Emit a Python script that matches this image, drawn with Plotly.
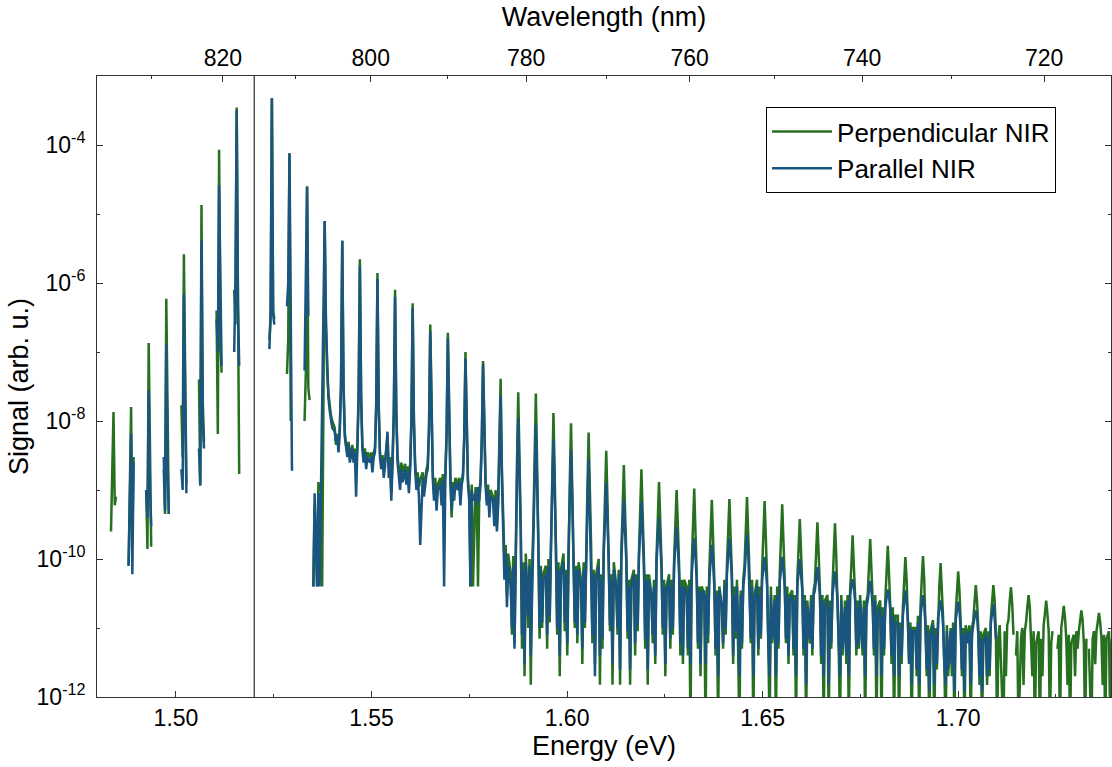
import plotly.graph_objects as go

# ---------------- data ----------------
# sideband order n = -8 ... 49 (n = 0 is the NIR laser line, no data there)
sideband_order = list(range(-8, 50))
sideband_energy_ev = [
    1.48402, 1.48852, 1.49302, 1.49752, 1.50202, 1.50652, 1.51102, 1.51552,
    1.52002, 1.52452, 1.52902, 1.53352, 1.53802, 1.54252, 1.54702, 1.55152,
    1.55602, 1.56052, 1.56502, 1.56952, 1.57402, 1.57852, 1.58302, 1.58752,
    1.59202, 1.59652, 1.60102, 1.60552, 1.61002, 1.61452, 1.61902, 1.62352,
    1.62802, 1.63252, 1.63702, 1.64152, 1.64602, 1.65052, 1.65502, 1.65952,
    1.66402, 1.66852, 1.67302, 1.67752, 1.68202, 1.68652, 1.69102, 1.69552,
    1.70002, 1.70452, 1.70902, 1.71352, 1.71802, 1.72252, 1.72702, 1.73152,
    1.73602, 1.74052,
]
# spectrometer samples around each sideband centre (eV)
sample_offsets_ev = [-0.00193, -0.00161, -0.00129, -0.00096, -0.00064, -0.00032, 0.0,
                     0.00032, 0.00064, 0.00096, 0.00129, 0.00161, 0.00193]

N = None
# Perpendicular NIR signal: one row per sideband, 13 samples per row
perp_rows = [
    [N, N, N, N, 2.5e-10, 3e-9, 1.35e-8, 6e-10, 8e-10, N, N, N, N],          # -8
    [N, N, N, N, 8e-11, 1e-9, 1.6e-8, 2e-10, 3e-9, N, N, N, N],              # -7
    [N, N, N, N, 1e-9, 1.4e-10, 1.35e-7, 3e-9, 1.5e-10, N, N, N, N],         # -6
    [N, N, N, N, 2e-9, 4.5e-10, 5.9e-7, 2.8e-8, 4.5e-10, N, N, N, N],        # -5
    [N, N, N, N, 1.7e-8, 3e-9, 2.6e-6, 5e-8, 1.2e-9, N, N, N, N],            # -4
    [N, N, N, N, 4e-8, 1.2e-9, 1.35e-5, 2e-8, 5e-9, N, N, N, N],             # -3
    [N, N, N, N, 4e-7, 6.5e-9, 8.5e-5, 1.5e-7, 5e-8, N, N, N, N],            # -2
    [N, N, N, N, 8e-7, 2.5e-7, 3.5e-4, 1e-7, 1.7e-9, N, N, N, N],            # -1
    [N, N, N, N, N, N, N, N, N, N, N, N, N],                                 # 0
    [N, N, N, N, 1.5e-7, 3e-7, 4.8e-4, 4e-7, 3e-7, N, N, N, N],              # 1
    [N, N, N, N, 4.8e-8, 1.5e-7, 7.6e-5, 1e-8, N, N, N, N, N],               # 2
    [N, N, N, N, 1e-8, 5e-8, 2.5e-5, 3e-8, 2e-8, N, N, 4e-11, 6e-10],        # 3
    [4e-11, 1.3e-9, 1e-9, 1.2e-9, 4e-11, 3.8e-8, 7.9e-6, 3e-7, 5e-8, 2.5e-8, 1.6e-8, 1.2e-8, 1e-8],  # 4
    [8e-9, 4.5e-9, 6.5e-9, 4e-9, 8e-9, 3.5e-8, 4.1e-6, 3.5e-8, 7e-9, 4.5e-9, 3.5e-9, 5e-9, 3e-9],    # 5
    [4.5e-9, 3e-9, 4e-9, 2e-9, 4.5e-9, 2.5e-8, 2.2e-6, 2.5e-8, 4.5e-9, 3e-9, 4e-9, 2.5e-9, 3.5e-9],  # 6
    [3e-9, 3.5e-9, 2.2e-9, 3.5e-9, 4e-9, 1.8e-8, 1.4e-6, 1.8e-8, 3.5e-9, 2.5e-9, 3.2e-9, 2e-9, 2.6e-9],  # 7
    [6e-9, 2e-9, 3e-9, 9e-10, 3e-9, 1.4e-8, 8e-7, 1.4e-8, 3e-9, 2e-9, 1.4e-9, 2.5e-9, 1.8e-9],       # 8
    [2.4e-9, 1.5e-9, 2.2e-9, 1.2e-9, 2.4e-9, 1.1e-8, 5.1e-7, 1.1e-8, 2.4e-9, 1.3e-9, 1.8e-9, 1.1e-9, 1.4e-9],  # 9
    [1.8e-9, 1e-9, 1.6e-9, 2e-9, 2.4e-9, 8e-9, 2.5e-7, 8e-9, 1.8e-9, 9e-10, 1.5e-9, 7e-10, 1.2e-9],  # 10
    [1.5e-9, 8e-10, 1.7e-9, 9e-10, 1.8e-9, 7e-9, 1.9e-7, 7e-9, 1.7e-9, 4e-10, 1.3e-9, 9e-10, 1.5e-9],  # 11
    [1.2e-9, 1.5e-9, 8e-10, 1.4e-9, 1.7e-9, 6e-9, 1e-7, 6e-9, 1.4e-9, 9e-10, 4e-11, 1.2e-9, 4e-11],  # 12
    [1.1e-9, 7e-10, 4e-11, 9e-10, 1.4e-9, 6e-9, 7.4e-8, 6e-9, 1.4e-9, 7e-10, 1.2e-9, 5e-10, 1e-9],   # 13
    [8e-10, 4e-10, 1e-9, 3e-10, 7e-10, 4e-9, 4.1e-8, 2e-9, 3e-10, 1e-10, 1.6e-10, 3e-11, 1.2e-10],   # 14
    [6e-11, 8e-12, 1.1e-10, 6e-12, 3e-10, 2.5e-9, 2.6e-8, 2.5e-9, 3e-10, 5e-12, 9e-11, 2e-12, 1.2e-10],  # 15
    [1e-11, 1e-10, 1.5e-12, 7e-11, 3e-10, 2.5e-9, 2.5e-8, 2.5e-9, 2.5e-10, 7e-12, 8e-11, 1e-11, 6e-11],  # 16
    [8e-11, 5e-12, 1e-10, 1.2e-11, 2e-10, 1.8e-9, 1.3e-8, 1.8e-9, 2e-10, 8e-12, 9e-11, 2e-12, 7e-11],  # 17
    [1.2e-10, 9e-12, 7e-11, 4e-12, 2e-10, 1.3e-9, 9.3e-9, 1.3e-9, 1.6e-10, 1e-11, 8e-11, 6e-12, 9e-11],  # 18
    [5e-11, 3e-12, 9e-11, 1e-11, 1.6e-10, 1e-9, 6.8e-9, 1e-9, 1.5e-10, 6e-12, 7e-11, 3e-12, 6e-11],  # 19
    [1e-10, 1.5e-12, 6e-11, 5e-12, 1.5e-10, 7e-10, 3.7e-9, 7e-10, 1.3e-10, 9e-12, 6e-11, 1.5e-12, 9e-11],  # 20
    [4e-11, 8e-12, 7e-11, 1.5e-12, 1.3e-10, 5e-10, 2.3e-9, 5e-10, 1.1e-10, 7e-12, 5e-11, 1.5e-12, 5e-11],  # 21
    [7e-11, 4e-12, 6e-11, 9e-12, 1.2e-10, 4.5e-10, 2e-9, 4.5e-10, 1e-10, 5e-12, 6e-11, 1.5e-12, 6e-11],  # 22
    [3e-11, 6e-12, 5e-11, 3e-12, 1.1e-10, 3.5e-10, 1.3e-9, 3.5e-10, 9e-11, 8e-12, 5e-11, 2e-12, 4e-11],  # 23
    [6e-11, 5e-12, 5e-11, 8e-12, 1e-10, 3e-10, 1e-9, 3e-10, 8e-11, 4e-12, 5e-11, 3e-12, 5e-11],  # 24
    [4e-11, 4e-12, 5e-11, 3e-13, 8e-11, 2.5e-10, 1.05e-9, 2.5e-10, 6e-11, 5e-12, 4e-11, 2e-12, 4e-11],  # 25
    [3e-11, 3e-13, 4e-11, 6e-12, 7e-11, 2e-10, 7.2e-10, 2e-10, 5e-11, 4e-12, 3.5e-11, 3e-13, 4e-11],  # 26
    [2e-11, 5e-12, 5e-11, 8e-12, 8e-11, 2e-10, 7.4e-10, 2e-10, 6e-11, 3e-12, 4e-11, 7e-12, 5e-11],  # 27
    [3e-13, 3.5e-11, 5e-12, 5e-11, 8e-11, 2.2e-10, 7.9e-10, 2.2e-10, 6e-11, 6e-12, 5e-11, 3e-13, 3e-11],  # 28
    [5e-11, 4e-12, 4e-11, 7e-12, 7e-11, 2e-10, 6.9e-10, 2e-10, 5e-11, 5e-12, 3e-13, 4e-11, 6e-12],  # 29
    [3e-11, 3e-13, 4e-11, 5e-12, 6e-11, 1.8e-10, 6.2e-10, 1.8e-10, 5e-11, 6e-12, 4e-11, 3e-12, 3e-11],  # 30
    [3.5e-11, 4e-12, 3e-11, 3e-13, 5e-11, 1.3e-10, 3.8e-10, 1.3e-10, 4e-11, 4e-12, 3e-11, 3e-13, 2.5e-11],  # 31
    [6e-12, 3e-11, 4e-12, 3.5e-11, 4.5e-11, 1.2e-10, 3.4e-10, 1.2e-10, 3.5e-11, 3e-12, 3e-11, 3e-13, 2.5e-11],  # 32
    [3e-11, 3e-13, 2.5e-11, 5e-12, 4e-11, 1.1e-10, 3.3e-10, 1.1e-10, 3e-11, 5e-12, 3e-13, 3e-11, 4e-12],  # 33
    [2.5e-11, 3e-12, 3e-11, 3e-13, 3.5e-11, 8e-11, 2.2e-10, 8e-11, 3e-11, 4e-12, 2.5e-11, 5e-12, 3e-11],  # 34
    [4e-12, 2.5e-11, 3e-13, 2.5e-11, 3e-11, 7e-11, 1.95e-10, 7e-11, 2.5e-11, 4e-12, 3e-11, 3e-13, 2e-11],  # 35
    [2.5e-11, 3e-13, 2e-11, 4e-12, 2.5e-11, 6e-11, 1.55e-10, 6e-11, 2e-11, 3e-12, 2e-11, 3e-13, 1.5e-11],  # 36
    [1.5e-11, 3e-13, 1.2e-11, 3e-12, 2e-11, 5e-11, 1.07e-10, 5e-11, 1.5e-11, 3e-12, 1.2e-11, 3e-13, 1e-11],  # 37
    [1e-11, 2e-12, 1.5e-11, 3e-13, 2e-11, 5e-11, 1.1e-10, 5e-11, 1.4e-11, 2e-12, 1.1e-11, 3e-13, 9e-12],  # 38
    [1.3e-11, 3e-13, 1e-11, 2.5e-12, 1.8e-11, 4e-11, 8.7e-11, 4e-11, 1.4e-11, 3e-12, 3e-13, 1.1e-11, 2e-12],  # 39
    [1e-11, 2e-12, 1.2e-11, 3e-13, 1.6e-11, 3.5e-11, 6.6e-11, 3.5e-11, 1.2e-11, 2e-12, 1e-11, 3e-13, 1.1e-11],  # 40
    [7e-12, 1.1e-11, 3e-13, 1e-11, 1.3e-11, 2.5e-11, 4.2e-11, 2.5e-11, 1e-11, 1.5e-12, 9e-12, 3e-13, 8e-12],  # 41
    [1e-11, 1.5e-12, 9e-12, 2e-12, 1.4e-11, 2.5e-11, 4.2e-11, 2.5e-11, 9e-12, 3e-13, 7e-12, 1.1e-11, 2e-12],  # 42
    [3e-13, 9e-12, 2e-12, 1.1e-11, 1.3e-11, 2.5e-11, 3.9e-11, 2.2e-11, 8e-12, N, 4e-12, 9e-12, 3e-13],  # 43
    [7e-12, 1e-11, 1.5e-12, 9e-12, 1.2e-11, 2e-11, 3e-11, 2e-11, 7e-12, 2e-12, 9e-12, 3e-13, 6e-12],  # 44
    [9e-12, 3e-13, 7e-12, 2e-12, 1.1e-11, 1.6e-11, 2.5e-11, 1.6e-11, 9e-12, 3e-13, 6e-12, 9e-12, N],  # 45
    [N, 5e-12, 8e-12, 3e-13, 1e-11, 1.4e-11, 2.1e-11, 1.4e-11, 7e-12, 1.5e-12, 8e-12, 3e-13, 6e-12],  # 46
    [8e-12, 2e-12, 9e-12, 5e-12, 9e-12, 1.3e-11, 1.8e-11, 1.3e-11, 6e-12, 3e-13, 7e-12, N, 5e-12],  # 47
    [3e-13, 7e-12, 9e-12, 3e-12, 9e-12, 1.2e-11, 1.65e-11, 1.2e-11, 7e-12, 1.5e-12, 8e-12, 3e-13, 7e-12],  # 48
    [9e-12, 3e-13, 6e-12, 9e-12, 9e-12, 1.2e-11, 1.5e-11, 1.1e-11, 5e-12, 3e-13, 7e-12, 9e-12, 3e-13],  # 49
]

# Parallel NIR signal: same sampling
para_rows = [
    [N, N, N, N, N, N, N, N, N, N, N, N, N],                                 # -8
    [N, N, N, N, 8e-11, 1e-9, 6.5e-9, 6e-11, 2.5e-9, N, N, N, N],            # -7
    [N, N, N, N, 1e-9, 4e-10, 2.8e-8, 1e-9, 3e-10, N, N, N, N],              # -6
    [N, N, N, N, 3e-9, 5e-10, 1.3e-7, 2e-9, 4.5e-10, N, N, N, N],            # -5
    [N, N, N, N, 2e-9, 1e-9, 6.9e-7, 8e-9, 9e-10, N, N, N, N],               # -4
    [N, N, N, N, 4e-9, 1.15e-9, 4.1e-6, 1e-8, 4e-9, N, N, N, N],             # -3
    [N, N, N, N, 3e-7, 1e-7, 2.6e-5, 1e-6, 6.3e-8, N, N, N, N],              # -2
    [N, N, N, N, 1e-7, 1e-6, 3.2e-4, 5e-7, 6.3e-8, N, N, N, N],              # -1
    [N, N, N, N, N, N, N, N, N, N, N, N, N],                                 # 0
    [N, N, N, N, 1.1e-7, 4e-7, 4.7e-4, 3.5e-7, 2.5e-7, N, N, N, N],          # 1
    [N, N, N, N, 4.6e-7, 1e-6, 7.6e-5, 3e-7, 1.9e-9, N, N, N, N],            # 2
    [N, N, N, N, 5.4e-8, 1.3e-6, 2.5e-5, 3.5e-7, 3.5e-7, N, N, 4e-11, 9e-10],  # 3
    [4e-11, 9e-10, 4e-11, 8e-10, 4e-8, 2e-7, 7.9e-6, 2.5e-7, 4.5e-8, 2.2e-8, 1.4e-8, 1e-8, 8e-9],  # 4
    [7e-9, 5e-9, 6e-9, 3.5e-9, 7e-9, 3e-8, 4.1e-6, 3e-8, 6e-9, 4e-9, 3e-9, 4.5e-9, 2.5e-9],  # 5
    [4e-9, 2.5e-9, 3.5e-9, 8e-10, 4e-9, 2e-8, 1.8e-6, 2e-8, 4e-9, 2.5e-9, 3.5e-9, 2e-9, 3e-9],  # 6
    [2.5e-9, 3e-9, 1.8e-9, 3e-9, 3.5e-9, 1.5e-8, 1.15e-6, 1.5e-8, 3e-9, 2e-9, 2.8e-9, 1.5e-9, 2.2e-9],  # 7
    [7e-9, 1.5e-9, 2.5e-9, 7e-10, 2.5e-9, 1.2e-8, 6.3e-7, 1.2e-8, 2.5e-9, 1.5e-9, 1e-9, 2e-9, 1.3e-9],  # 8
    [2e-9, 1.2e-9, 1.8e-9, 9e-10, 2e-9, 9e-9, 4.3e-7, 9e-9, 2e-9, 1e-9, 1.5e-9, 8e-10, 1.6e-10],  # 9
    [1.5e-9, 8e-10, 1.3e-9, 1.7e-9, 2e-9, 7e-9, 2e-7, 7e-9, 1.5e-9, 7e-10, 1.2e-9, 5e-10, 1e-9],  # 10
    [1.2e-9, 6e-10, 1.4e-9, 4e-11, 1.5e-9, 6e-9, 1.6e-7, 6e-9, 1.4e-9, 5e-10, 1.1e-9, 7e-10, 1.3e-9],  # 11
    [1e-9, 1.3e-9, 6e-10, 1.2e-9, 1.5e-9, 5e-9, 8e-8, 5e-9, 1.2e-9, 7e-10, 4e-11, 1e-9, 7e-10],  # 12
    [9e-10, 6e-10, 1.1e-9, 7e-10, 1.2e-9, 5e-9, 6.6e-8, 5e-9, 1.2e-9, 6e-10, 1e-9, 4e-10, 8e-10],  # 13
    [7e-10, 3e-10, 8e-10, 2.5e-10, 6e-10, 3e-9, 2.3e-8, 1.5e-9, 2e-10, 5e-11, 1.2e-10, 2e-11, 8e-11],  # 14
    [4e-11, 1e-11, 8e-11, 5e-12, 2.5e-10, 1.5e-9, 1.1e-8, 1.5e-9, 2.5e-10, 8e-12, 7e-11, 3e-12, 9e-11],  # 15
    [1.5e-11, 8e-11, 4e-12, 6e-11, 2e-10, 1.3e-9, 9.1e-9, 1.3e-9, 2e-10, 1e-11, 7e-11, 1.2e-11, 5e-11],  # 16
    [6e-11, 8e-12, 8e-11, 1.5e-11, 1.6e-10, 9e-10, 5.4e-9, 9e-10, 1.6e-10, 1e-11, 7e-11, 4e-12, 6e-11],  # 17
    [9e-11, 1.2e-11, 6e-11, 6e-12, 1.5e-10, 7e-10, 3.8e-9, 7e-10, 1.3e-10, 1.2e-11, 7e-11, 8e-12, 7e-11],  # 18
    [4e-11, 5e-12, 7e-11, 1.2e-11, 1.3e-10, 5e-10, 2.8e-9, 5e-10, 1.2e-10, 8e-12, 6e-11, 2e-12, 5e-11],  # 19
    [8e-11, 4e-12, 5e-11, 7e-12, 1.2e-10, 3.5e-10, 1.3e-9, 3.5e-10, 1e-10, 1.1e-11, 5e-11, 3e-12, 7e-11],  # 20
    [3.5e-11, 1e-11, 6e-11, 2.5e-12, 1e-10, 2.5e-10, 7.2e-10, 2.5e-10, 9e-11, 9e-12, 4e-11, 2.5e-12, 4e-11],  # 21
    [6e-11, 6e-12, 5e-11, 1.1e-11, 1e-10, 2.2e-10, 6.8e-10, 2.2e-10, 8e-11, 7e-12, 5e-11, 2.5e-12, 5e-11],  # 22
    [2.5e-11, 8e-12, 4e-11, 4e-12, 9e-11, 1.8e-10, 4e-10, 1.8e-10, 7e-11, 1e-11, 4e-11, 3e-12, 3.5e-11],  # 23
    [5e-11, 7e-12, 4e-11, 1e-11, 8e-11, 1.5e-10, 2.9e-10, 1.5e-10, 6e-11, 6e-12, 4e-11, 4e-12, 4e-11],  # 24
    [3e-11, 5e-12, 4e-11, 3e-12, 6e-11, 1.1e-10, 2e-10, 1.1e-10, 5e-11, 6e-12, 3.5e-11, 3e-12, 3e-11],  # 25
    [3.5e-11, 3e-12, 3e-11, 8e-12, 5e-11, 9e-11, 1.6e-10, 9e-11, 4e-11, 5e-12, 3e-11, 2e-12, 3.5e-11],  # 26
    [2e-11, 6e-12, 4e-11, 1e-11, 6e-11, 1.1e-10, 2e-10, 1.1e-10, 5e-11, 4e-12, 3e-11, 9e-12, 4e-11],  # 27
    [2e-12, 3e-11, 6e-12, 4e-11, 6e-11, 1.2e-10, 2.3e-10, 1.2e-10, 4e-11, 7e-12, 4e-11, 2e-12, 2.5e-11],  # 28
    [4e-11, 5e-12, 3e-11, 8e-12, 5e-11, 7e-11, 1.07e-10, 7e-11, 4e-11, 6e-12, 2e-12, 3e-11, 7e-12],  # 29
    [2.5e-11, 2e-12, 3e-11, 6e-12, 4.5e-11, 7e-11, 1.07e-10, 7e-11, 4e-11, 7e-12, 3e-11, 4e-12, 2.5e-11],  # 30
    [3e-11, 5e-12, 2.5e-11, 2e-12, 4e-11, 6e-11, 1e-10, 6e-11, 3.5e-11, 5e-12, 2.5e-11, 1.5e-12, 2e-11],  # 31
    [7e-12, 2.5e-11, 5e-12, 3e-11, 3.5e-11, 5e-11, 7.6e-11, 5e-11, 3e-11, 4e-12, 2.5e-11, 2e-12, 2e-11],  # 32
    [2.5e-11, 1.5e-12, 2e-11, 6e-12, 3e-11, 4.5e-11, 6.6e-11, 4.5e-11, 2.5e-11, 6e-12, 2e-12, 2.5e-11, 5e-12],  # 33
    [2e-11, 4e-12, 2.5e-11, 2e-12, 3e-11, 4e-11, 5.1e-11, 4e-11, 2.5e-11, 5e-12, 2e-11, 6e-12, 2.5e-11],  # 34
    [5e-12, 2e-11, 2e-12, 2e-11, 2.5e-11, 3.5e-11, 4.8e-11, 3.5e-11, 2e-11, 5e-12, 2.5e-11, 2e-12, 1.5e-11],  # 35
    [2e-11, 2e-12, 1.5e-11, 5e-12, 2e-11, 3e-11, 3.6e-11, 3e-11, 1.8e-11, 4e-12, 1.5e-11, 2e-12, 1.2e-11],  # 36
    [1.2e-11, 2e-12, 1e-11, 4e-12, 1.5e-11, 2.5e-11, 3.5e-11, 2.5e-11, 1.3e-11, 3e-12, 1e-11, 1.5e-12, 9e-12],  # 37
    [9e-12, 2.5e-12, 1.2e-11, 1.5e-12, 1.5e-11, 2.2e-11, 3e-11, 2.2e-11, 1.1e-11, 2.5e-12, 9e-12, 1.2e-12, 7e-12],  # 38
    [1.1e-11, 1.5e-12, 8e-12, 3e-12, 1.4e-11, 2e-11, 2.5e-11, 2e-11, 1.1e-11, 3e-12, 1.5e-12, 9e-12, 2.5e-12],  # 39
    [9e-12, 3e-12, 1e-11, 1.2e-12, 1.3e-11, 1.8e-11, 2.4e-11, 1.8e-11, 1e-11, 2.5e-12, 8e-12, 1.2e-12, 9e-12],  # 40
    [6e-12, 9e-12, 1.5e-12, 8e-12, 1.1e-11, 1.5e-11, 1.8e-11, 1.5e-11, 8e-12, 2e-12, 7e-12, 1.2e-12, 6e-12],  # 41
    [8e-12, 2e-12, 7e-12, 2.5e-12, 1.2e-11, 1.6e-11, 2.2e-11, 1.4e-11, 7e-12, N, N, N, N],      # 42
    [N, N, N, N, N, N, N, N, N, N, N, N, N],                                 # 43
    [N, N, N, N, N, N, N, N, N, N, N, N, N],                                 # 44
    [N, N, N, N, N, N, N, N, N, N, N, N, N],                                 # 45
    [N, N, N, N, N, N, N, N, N, N, N, N, N],                                 # 46
    [N, N, N, N, N, N, N, N, N, N, N, N, N],                                 # 47
    [N, N, N, N, N, N, N, N, N, N, N, N, N],                                 # 48
    [N, N, N, N, N, N, N, N, N, N, N, N, N],                                 # 49
]

laser_energy_ev = 1.5200
energy_ticks_ev = [1.50, 1.55, 1.60, 1.65, 1.70]
wavelength_ticks_nm = [820, 800, 780, 760, 740, 720]
wavelength_minor_nm = [830, 810, 790, 770, 750, 730]
signal_ticks = [1e-12, 1e-10, 1e-8, 1e-6, 1e-4]
signal_tick_text = ["10<sup>-12</sup>", "10<sup>-10</sup>", "10<sup>-8</sup>",
                    "10<sup>-6</sup>", "10<sup>-4</sup>"]
signal_minor = [1e-11, 1e-9, 1e-7, 1e-5, 1e-3]

HC_EV_NM = 1239.84

# ---------------- build traces ----------------
energy = [e + o for e in sideband_energy_ev for o in sample_offsets_ev]
perp = [v for row in perp_rows for v in row]
para = [v for row in para_rows for v in row]

GREEN = "#27701f"
BLUE = "#1a5580"
FONT = "Liberation Sans, Arial, sans-serif"
AX = "#333333"

fig = go.Figure()
fig.add_trace(go.Scatter(x=energy, y=perp, mode="lines", name="Perpendicular NIR",
                         line=dict(color=GREEN, width=2.5), connectgaps=False))
fig.add_trace(go.Scatter(x=energy, y=para, mode="lines", name="Parallel NIR",
                         line=dict(color=BLUE, width=2.5), connectgaps=False))
# empty trace anchoring the top (wavelength) axis
fig.add_trace(go.Scatter(x=[], y=[], xaxis="x2", yaxis="y", showlegend=False))

xr = [1.4798, 1.7391]

fig.add_shape(type="line", xref="x", yref="paper", x0=laser_energy_ev, x1=laser_energy_ev,
              y0=0, y1=1, line=dict(color="#000000", width=1))

fig.update_layout(
    width=1112, height=767,
    margin=dict(l=97, r=1, t=76, b=70),
    paper_bgcolor="white", plot_bgcolor="white",
    font=dict(family=FONT, size=23, color="#000000"),
    showlegend=True,
    legend=dict(x=0.6598, y=0.950, xanchor="left", yanchor="top",
                bordercolor="#000000", borderwidth=1, bgcolor="white",
                font=dict(family=FONT, size=26), itemwidth=60,
                tracegroupgap=0),
    xaxis=dict(
        range=xr, showline=True, linecolor=AX, linewidth=1, mirror=False,
        tickmode="array", tickvals=energy_ticks_ev, tickformat=".2f",
        ticks="inside", ticklen=6, tickcolor=AX,
        minor=dict(dtick=0.025, tick0=1.5, ticks="inside", ticklen=3, tickcolor=AX, showgrid=False),
        showgrid=False, zeroline=False, automargin=False,
        title=dict(text="Energy (eV)", font=dict(size=27), standoff=5),
        tickfont=dict(size=23),
    ),
    xaxis2=dict(
        overlaying="x", side="top", range=xr, showline=True, linecolor=AX, linewidth=1,
        tickmode="array", tickvals=[HC_EV_NM / w for w in wavelength_ticks_nm],
        ticktext=[str(w) for w in wavelength_ticks_nm],
        ticks="inside", ticklen=6, tickcolor=AX,
        minor=dict(tickvals=[HC_EV_NM / w for w in wavelength_minor_nm], ticks="inside",
                   ticklen=3, tickcolor=AX, showgrid=False),
        showgrid=False, zeroline=False, automargin=False,
        title=dict(text="Wavelength (nm)", font=dict(size=27), standoff=10),
        tickfont=dict(size=23),
    ),
    yaxis=dict(
        type="log", range=[-12, -3], showline=True, linecolor=AX, linewidth=1, mirror="ticks",
        tickmode="array", tickvals=signal_ticks, ticktext=signal_tick_text,
        ticks="inside", ticklen=6, tickcolor=AX, ticklabelstandoff=6,
        minor=dict(tickvals=signal_minor, ticks="inside", ticklen=3, tickcolor=AX, showgrid=False),
        showgrid=False, zeroline=False, automargin=False,
        title=dict(text="Signal (arb. u.)", font=dict(size=27), standoff=0),
        tickfont=dict(size=23),
    ),
)

fig.write_html("out.html")
